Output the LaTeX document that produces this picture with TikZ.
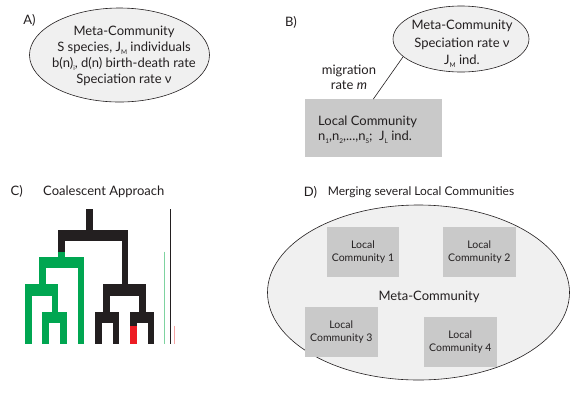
\documentclass[tikz,border=0pt]{standalone}
\usepackage{fontspec}
\setmainfont{Lato}
\usetikzlibrary{shapes.geometric}
\definecolor{ink}{HTML}{231F20}
\definecolor{treegreen}{HTML}{00A651}
\definecolor{treered}{HTML}{ED1C24}
\definecolor{lightgreen}{HTML}{7ED3A0}
\definecolor{lightred}{HTML}{F5A3A3}
\definecolor{boxgray}{HTML}{C9C9C9}
\definecolor{ellfill}{HTML}{F0F0F0}
\newcommand{\sbs}[1]{\raisebox{-0.45ex}{\fontsize{6.5}{6.5}\selectfont #1}}
\begin{document}
\begin{tikzpicture}[x=1pt,y=-1pt,
  ell/.style={ellipse, draw=ink, fill=ellfill, line width=0.6pt, inner sep=0pt},
  lbox/.style={fill=boxgray, inner sep=0pt, text=ink, align=center, font=\fontsize{10.5}{13.3}\selectfont},
  txt/.style={text=ink, font=\fontsize{13}{16}\selectfont, align=center, inner sep=0pt},
  tb/.style={fill=ink},
  tg/.style={fill=treegreen},
  tr/.style={fill=treered}]
\useasboundingbox (0,0) rectangle (570,392);
\fill[white] (0,0) rectangle (570,392);
% ---------- A ----------
\node[txt] (labA) at (29.5,20) {A)};
\node[ell, minimum width=180, minimum height=94] (eA) at (119.5,55) {};
\node[txt] (tA) at (124,56) {Meta-Community\\S species, J\sbs{M} individuals\\b(n)\sbs{i}, d(n) birth-death rate\\Speciation rate ν};
% ---------- B ----------
\node[txt] (labB) at (291,22) {B)};
\node[ell, minimum width=136, minimum height=66] (eB) at (461,39) {};
\node[txt, font=\fontsize{13}{17.5}\selectfont] (tB) at (462,44) {Meta-Community\\Speciation rate ν\\J\sbs{M} ind.};
\node[lbox, minimum width=136.7, minimum height=57.4] (lc) at (373.3,128) {};
\node[txt, align=left, anchor=west, font=\fontsize{13}{14.5}\selectfont] (tlc) at (318,129.7) {Local Community\\n\sbs{1},n\sbs{2},...,n\sbs{S}; \ J\sbs{L} ind.};
\node[txt, font=\fontsize{13}{15}\selectfont] (mig) at (349,77.5) {migration\\rate \textit{m}};
\draw[ink, line width=0.6pt] (eB.197) -- (lc.north);
% ---------- C ----------
\node[txt] (labC) at (16.7,191.7) {C)};
\node[txt] (titC) at (103.8,191.7) {Coalescent Approach};
% black
\fill[tb] (86,209.3) rectangle (92.7,230.5);
\fill[tb] (58.3,230) rectangle (128.3,241);
\fill[tb] (58.3,240.5) rectangle (65,251.7);
\fill[tb] (121.7,240.5) rectangle (128.3,284.8);
\fill[tb] (103.3,284.3) rectangle (145.7,295.7);
\fill[tb] (103.3,295.2) rectangle (110,312.2);
\fill[tb] (139,295.2) rectangle (145.7,312.2);
\fill[tb] (95,311.7) rectangle (119.3,322.7);
\fill[tb] (95,322.2) rectangle (101.7,344);
\fill[tb] (112.7,322.2) rectangle (119.3,344);
\fill[tb] (130,311.7) rectangle (154.3,322.7);
\fill[tb] (130,322.2) rectangle (136.7,325.7);
\fill[tb] (147.7,322.2) rectangle (154.3,344);
\fill[tr] (130,325.7) rectangle (136.7,344);
% green
\fill[tg] (58.3,251.7) rectangle (65,257.8);
\fill[tg] (39,257.3) rectangle (84.3,268.3);
\fill[tg] (39,267.8) rectangle (45.7,284.8);
\fill[tg] (77.7,267.8) rectangle (84.3,344);
\fill[tg] (25,284.3) rectangle (58.3,295.7);
\fill[tg] (25,295.2) rectangle (31.7,344);
\fill[tg] (51.7,295.2) rectangle (58.3,312.2);
\fill[tg] (42.3,311.7) rectangle (66.7,322.7);
\fill[tg] (42.3,322.2) rectangle (49,344);
\fill[tg] (60,322.2) rectangle (66.7,344);
% thin lineage bars
\draw[lightgreen, line width=1.2pt] (164.3,251.7) -- (164.3,344);
\draw[ink, line width=0.9pt] (170,209.3) -- (170,344);
\draw[lightred, line width=1.2pt] (174.7,325.7) -- (174.7,344);
% ---------- D ----------
\node[txt] (labD) at (310.5,192.3) {D)};
\node[txt, font=\fontsize{12}{16}\selectfont] (titD) at (421,192.3) {Merging several Local Communities};
\node[ell, minimum width=302, minimum height=175] (eD) at (418.5,292.5) {};
\node[txt] (metaD) at (429,296.7) {Meta-Community};
\node[lbox, minimum width=72.6, minimum height=50] (lc1) at (363,251.7) {Local\\Community 1};
\node[lbox, minimum width=73.3, minimum height=50] (lc2) at (479.3,251.7) {Local\\Community 2};
\node[lbox, minimum width=72.7, minimum height=50] (lc3) at (341.3,331.7) {Local\\Community 3};
\node[lbox, minimum width=72.7, minimum height=50] (lc4) at (460.3,341.7) {Local\\Community 4};
\end{tikzpicture}
\end{document}
